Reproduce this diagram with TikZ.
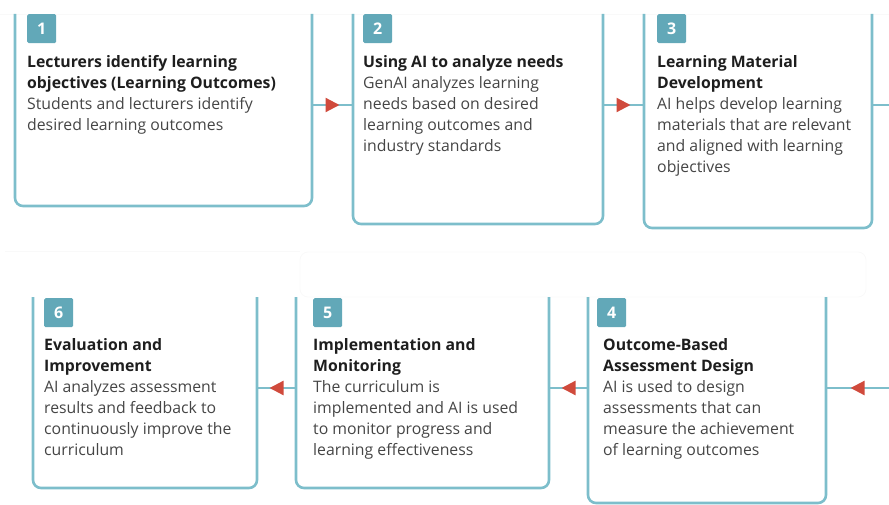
\documentclass[tikz,border=0pt]{standalone}
\usepackage{fontspec}
\setmainfont{Open Sans}
\usetikzlibrary{positioning, arrows.meta, decorations.markings}
\definecolor{tealline}{HTML}{7DBECB}
\definecolor{tealbadge}{HTML}{62A8B8}
\definecolor{flowred}{HTML}{D04A3C}
\definecolor{titlecol}{HTML}{1E1E1E}
\definecolor{bodycol}{HTML}{454545}
\newcommand{\steptitle}[1]{\textcolor{titlecol}{\bfseries #1}}

\begin{document}
\begin{tikzpicture}[x=1pt, y=-1pt,
    card/.style={inner sep=0pt, outer sep=0pt, anchor=north west},
    frame/.style={tealline, line width=2.6pt, rounded corners=8pt},
    badge/.style={fill=tealbadge, rounded corners=1.5pt, minimum width=29pt, minimum height=29pt,
        inner sep=0pt, text=white, font=\bfseries\fontsize{16}{16}\selectfont, anchor=north west},
    info/.style={inner sep=0pt, align=left, font=\fontsize{15.8}{21}\selectfont, text=bodycol},
    link/.style={tealline, line width=2.2pt},
    flow/.style={link, postaction={decorate},
        decoration={markings, mark=at position 0.5 with {\arrow[flowred, xshift=7pt]{Triangle[length=14pt, width=14pt]}}}},
    faint/.style={gray!5, line width=0.8pt}]
\useasboundingbox (0,0) rectangle (889,505);
\clip (0,0) rectangle (889,505);
% faint background bands
\draw[faint] (0,14)--(889,14);
\draw[faint] (5,251)--(300,251);
\draw[faint, rounded corners=8pt] (300,252) rectangle (866,297);
% cards, top row
\node[card, minimum width=297pt, minimum height=192pt] (box1) at (15,14) {};
\node[card, minimum width=250pt, minimum height=210pt] (box2) at (353,14) {};
\node[card, minimum width=228pt, minimum height=214pt] (box3) at (644,14) {};
% cards, bottom row
\node[card, minimum width=224pt, minimum height=191pt] (box6) at (33,297) {};
\node[card, minimum width=253pt, minimum height=191pt] (box5) at (296,297) {};
\node[card, minimum width=238pt, minimum height=206pt] (box4) at (588,297) {};
\foreach \b in {box1,box2,box3,box4,box5,box6}
    \draw[frame] (\b.north west)--(\b.south west)--(\b.south east)--(\b.north east);
% badges
\node[badge] (n1) at (27,14) {1};
\node[badge] (n2) at (363,14) {2};
\node[badge] (n3) at (657,14) {3};
\node[badge] (n4) at (597,298) {4};
\node[badge] (n5) at (313,298) {5};
\node[badge] (n6) at (44,298) {6};
% texts
\node[info, below right=12pt and 0pt of n1.south west] (t1)
    {\steptitle{Lecturers identify learning}\\\steptitle{objectives (Learning Outcomes)}\\
     Students and lecturers identify\\desired learning outcomes};
\node[info, below right=12pt and 0pt of n2.south west] (t2)
    {\steptitle{Using AI to analyze needs}\\GenAI analyzes learning\\needs based on desired\\
     learning outcomes and\\industry standards};
\node[info, below right=12pt and 0pt of n3.south west] (t3)
    {\steptitle{Learning Material}\\\steptitle{Development}\\AI helps develop learning\\
     materials that are relevant\\and aligned with learning\\objectives};
\node[info, below right=11pt and 6pt of n4.south west] (t4)
    {\steptitle{Outcome-Based}\\\steptitle{Assessment Design}\\AI is used to design\\
     assessments that can\\measure the achievement\\of learning outcomes};
\node[info, below right=11pt and 0pt of n5.south west] (t5)
    {\steptitle{Implementation and}\\\steptitle{Monitoring}\\The curriculum is\\
     implemented and AI is used\\to monitor progress and\\learning effectiveness};
\node[info, below right=11pt and 0pt of n6.south west] (t6)
    {\steptitle{Evaluation and}\\\steptitle{Improvement}\\AI analyzes assessment\\
     results and feedback to\\continuously improve the\\curriculum};
% connectors
\coordinate (row1) at (0,105);
\coordinate (row2) at (0,388);
\coordinate (exit3) at (889,105);
\coordinate (entry4) at (889,388);
\draw[flow] (box1.east |- row1)--(box2.west |- row1);
\draw[flow] (box2.east |- row1)--(box3.west |- row1);
\draw[link] (box3.east |- row1)--(exit3);
\draw[flow] (entry4)--(box4.east |- row2);
\draw[flow] (box4.west |- row2)--(box5.east |- row2);
\draw[flow] (box5.west |- row2)--(box6.east |- row2);
\end{tikzpicture}
\end{document}
